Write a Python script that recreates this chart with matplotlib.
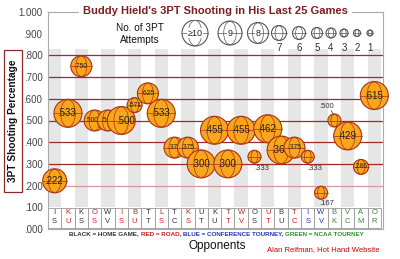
import numpy as np
import matplotlib.pyplot as plt
from matplotlib.patches import Circle, Ellipse, Rectangle
from matplotlib.transforms import ScaledTranslation

plt.rcParams['font.family'] = ['Liberation Sans Narrow', 'Liberation Sans', 'DejaVu Sans']

# 3PT percentage and attempts for each of the last 25 games
pct = [.222, .533, .750, .500, .500, .500, .571, .625, .533, .375, .375, .300, .455,
       .300, .455, .333, .462, .364, .375, .333, .167, .500, .429, .286, .615]
attempts = [9, 15, 8, 8, 8, 12, 7, 8, 15, 8, 8, 10, 11, 10, 11, 6, 13, 11, 8, 6, 6, 6, 14, 7, 13]
opponents = ["IS", "KU", "KS", "OS", "WV", "IS", "BU", "TT", "LS", "TC", "KS", "UT", "KU",
             "TT", "WV", "OS", "UT", "BU", "TC", "IS", "WV", "BK", "VC", "AM", "OR"]
venue = ["H", "R", "H", "R", "H", "R", "R", "H", "R", "H", "R", "H", "H",
         "R", "R", "H", "R", "H", "R", "C", "C", "N", "N", "N", "N"]

legend_sizes = [10, 9, 8, 7, 6, 5, 4, 3, 2, 1]
legend_labels = ["\u226510", "9", "8", "7", "6", "5", "4", "3", "2", "1"]

venue_colors = {"H": "#333333", "R": "#CC2020", "C": "#2233BB", "N": "#2E8B2E"}
ORANGE = "#F9A61C"
EDGE = "#A8321A"


def diameter(n):
    # bubble diameter in pixels for a number of attempts
    d = {1: 6, 2: 7, 3: 8, 4: 10, 5: 11, 6: 13, 7: 15, 8: 21, 9: 24}
    return d.get(n, 28)


fig = plt.figure(figsize=(4, 2.59), dpi=100)
ax = fig.add_axes([48/400, 1-229/259, 335/400, 217/259])
ax.set_xlim(0.5, 0.5 + 335/13.32)
ax.set_ylim(0, 1)
ax.autoscale(False)


def ball(x, y, d_px, face, edge, z, base):
    r = d_px / 2 / 100
    tr = fig.dpi_scale_trans + ScaledTranslation(x, y, base)
    ax.add_patch(Circle((0, 0), r, transform=tr, fc=face, ec=edge, lw=0.8,
                        zorder=z, clip_on=False))
    ax.add_patch(Ellipse((0, 0), r*1.05, 2*r*0.97, transform=tr, fc='none', ec=edge,
                         lw=0.5, zorder=z+0.01, clip_on=False))
    ax.plot([-r, r], [0, 0], transform=tr, color=edge, lw=0.5, zorder=z+0.01,
            clip_on=False)
    return tr


# grey stripes on odd columns
for i in range(1, len(pct)+1, 2):
    ax.add_patch(Rectangle((i-0.5, 0.1), 1, 0.73, fc="#E6E6E6", ec="none", zorder=0))

# horizontal reference lines
xmax = ax.get_xlim()[1]
ax.hlines([.3, .4, .5, .6, .7, .8], 0.5, xmax, color="#9E2B2B", lw=0.9, zorder=1)
ax.hlines([.2], 0.5, xmax, color="#D49A9A", lw=0.9, zorder=1)

# opponent table
for i, (opp, v) in enumerate(zip(opponents, venue)):
    x = i + 1
    ax.add_patch(Rectangle((x-0.5, 0.005), 1, 0.093, fc="white", ec="#999999",
                           lw=0.6, zorder=2))
    c = venue_colors[v]
    ax.text(x, 0.074, opp[0], ha="center", va="center", fontsize=5.5, color=c, zorder=2.5)
    ax.text(x, 0.035, opp[1], ha="center", va="center", fontsize=5.5, color=c, zorder=2.5)

# bubbles
outside = {16: (7, -12), 20: (7, -12), 21: (6, -11), 22: (-8, 14)}
nudge = {4: -3, 5: 0, 6: 4}
for i, (p, n) in enumerate(zip(pct, attempts)):
    x = i + 1
    d = diameter(n)
    z = 3 + i*0.1
    tr = ball(x, p, d, ORANGE, EDGE, z, ax.transData)
    lab = f"{p:.3f}"[1:]
    if x in outside:
        dx, dy = outside[x]
        ax.text(dx/100, dy/100, lab, transform=tr, ha="center", va="center",
                fontsize=5.5, color="#333333", zorder=10)
        if dy > 0:
            ax.plot([dx/100*0.4, dx/100*0.15], [dy/100*0.7, dy/100*0.45], transform=tr,
                    color="#333333", lw=0.5, zorder=10)
    else:
        fs = 7 if d >= 24 else 4.8
        dx = nudge.get(x, -1 if d >= 24 else 0) / 100
        ax.text(dx, 0, lab, transform=tr, ha="center", va="center",
                fontsize=fs, color="#222222", zorder=z+0.02)

# size legend
leg_x = [195, 230, 258, 279, 299, 317, 331, 344, 357, 370]
for k, (n, lab) in enumerate(zip(legend_sizes, legend_labels)):
    fx = (leg_x[k] - 48) / 335
    fy = (229 - 33) / 217
    d = diameter(n) - (2 if n >= 10 else 0)
    tr = ball(fx, fy, d, "white", "#555555", 5, ax.transAxes)
    if n >= 8:
        ax.text(0, 0, lab, transform=tr, ha="center", va="center", fontsize=6.5,
                color="#222222", zorder=5.1,
                bbox=dict(fc="white", ec="none", pad=0.3))
    else:
        ax.text(fx, (229 - 48) / 217, lab, transform=ax.transAxes, ha="center",
                va="center", fontsize=7, color="#333333")
ax.text((140 - 48) / 335, (229 - 34) / 217, "No. of 3PT\nAttempts", transform=ax.transAxes,
        ha="center", va="center", fontsize=7.2, color="#111111", linespacing=1.3)

# axes styling
yt = np.arange(0, 1.01, 0.1)
ax.set_yticks(yt)
ax.set_yticklabels(["1.000" if v > 0.99 else f"{v:.3f}"[1:] for v in yt],
                   fontsize=7, color="#444444")
ax.set_xticks([])
ax.tick_params(axis="y", length=0, pad=4)
for s in ax.spines.values():
    s.set_color("#AAAAAA")
    s.set_linewidth(0.8)

# title over the top frame
fig.text(0.53875, 1-11/259, "Buddy Hield's 3PT Shooting in His Last 25 Games",
         ha="center", va="center", fontsize=8, fontweight="bold", color="#7B1F1F",
         bbox=dict(fc="white", ec="none", pad=3))

# y label in a box
fig.patches.append(Rectangle((4/400, 1-192/259), 18/400, 142/259, transform=fig.transFigure,
                             fc="white", ec="#8B2A2A", lw=0.9, figure=fig))
fig.text(13/400, 1-121/259, "3PT Shooting Percentage", rotation=90, ha="center",
         va="center", fontsize=7.3, fontweight="bold", color="#111111")

fig.text(217/400, 1-246/259, "Opponents", ha="center", va="center", fontsize=8.5,
         color="#111111", family=["Liberation Sans", "DejaVu Sans"])
fig.text(323/400, 1-250/259, "Alan Reifman, Hot Hand Website", ha="center", va="center",
         fontsize=5.5, color="#CC0000")

# colour key, pieces laid out one after another
key_parts = [("BLACK = HOME GAME, ", "#333333"), ("RED = ROAD, ", "#CC2020"),
             ("BLUE = CONFERENCE TOURNEY, ", "#2233BB"), ("GREEN = NCAA TOURNEY", "#2E8B2E")]
fig.canvas.draw()
rend = fig.canvas.get_renderer()
texts = []
for txt, col in key_parts:
    texts.append(fig.text(0, 1-234/259, txt, color=col, fontsize=4.5, fontweight="bold",
                          va="center", ha="left"))
widths = [t.get_window_extent(renderer=rend).width / fig.bbox.width for t in texts]
x = 216.5/400 - sum(widths)/2
for t, w in zip(texts, widths):
    t.set_x(x)
    x += w

fig.savefig("out.png", dpi=100)
